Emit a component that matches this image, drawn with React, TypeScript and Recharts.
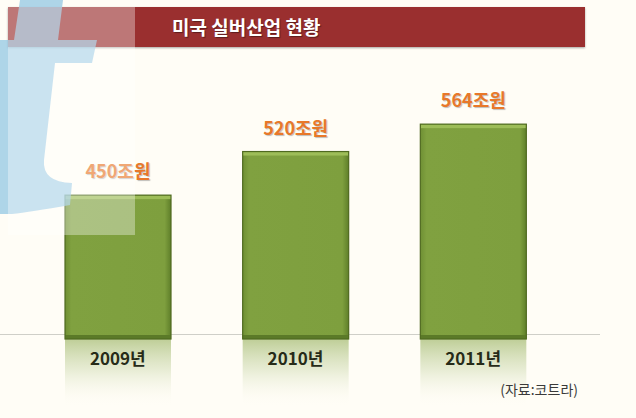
import { Bar, BarChart, LabelList, XAxis, YAxis } from 'recharts';

const years = ['2009년', '2010년', '2011년'];
const marketSize = [450, 520, 564];
const valueLabels = ['450조원', '520조원', '564조원'];

const chartData = years.map((year, i) => ({ year, value: marketSize[i], label: valueLabels[i] }));

const KR_FONT = '"Noto Sans CJK KR", "Noto Sans", sans-serif';

function BevelBar(props: any) {
  const { x, y, width, height } = props;
  return (
    <g>
      <rect x={x} y={y + height} width={width} height={68} fill="url(#reflect)" />
      <rect x={x} y={y} width={width} height={height} fill="url(#barBody)" />
      <rect x={x} y={y} width={width} height={4} fill="#9dbd58" />
      <rect x={x} y={y + height - 4} width={width} height={4} fill="#5b7a28" />
      <rect x={x} y={y} width={width} height={height} fill="none" stroke="#4f6a20" strokeWidth={1.2} />
    </g>
  );
}

function YearTick(props: any) {
  const { x, y, payload } = props;
  return (
    <text
      x={x}
      y={y + 18}
      textAnchor="middle"
      fontFamily={KR_FONT}
      fontWeight={700}
      fontSize={17}
      fill="#262b18"
    >
      {payload.value}
    </text>
  );
}

export default function App() {
  return (
    <div
      style={{
        position: 'fixed',
        left: 0,
        top: 0,
        width: 636,
        height: 418,
        background: '#fffdf6',
        overflow: 'hidden',
      }}
    >
      {/* title bar */}
      <div
        style={{
          position: 'absolute',
          left: 8,
          top: 7,
          width: 577,
          height: 40,
          background: '#9a2f2f',
          boxShadow: '0 1px 2px rgba(0,0,0,0.35)',
        }}
      >
        <div
          style={{
            position: 'absolute',
            left: 164,
            top: 0,
            lineHeight: '40px',
            color: '#fff',
            fontFamily: KR_FONT,
            fontWeight: 700,
            fontSize: 19,
            textShadow: '1px 1px 1px rgba(0,0,0,0.4)',
          }}
        >
          미국 실버산업 현황
        </div>
      </div>

      {/* baseline */}
      <div style={{ position: 'absolute', left: 0, top: 334, width: 600, height: 1, background: '#cfcfc8' }} />

      <div style={{ position: 'absolute', left: 0, top: 0 }}>
        <BarChart
          width={636}
          height={418}
          data={chartData}
          margin={{ top: 60, right: 36, bottom: 0, left: 0 }}
          barSize={106}
        >
          <defs>
            <linearGradient id="barBody" x1="0" y1="0" x2="1" y2="0">
              <stop offset="0%" stopColor="#6f9034" />
              <stop offset="6%" stopColor="#80a140" />
              <stop offset="94%" stopColor="#7e9f3e" />
              <stop offset="100%" stopColor="#5f7f2a" />
            </linearGradient>
            <linearGradient id="reflect" x1="0" y1="0" x2="0" y2="1">
              <stop offset="0%" stopColor="#9bb463" stopOpacity={0.65} />
              <stop offset="45%" stopColor="#c3d2a0" stopOpacity={0.4} />
              <stop offset="100%" stopColor="#fffdf6" stopOpacity={0} />
            </linearGradient>
          </defs>
          <XAxis
            dataKey="year"
            height={79}
            axisLine={false}
            tickLine={false}
            padding={{ left: 29, right: 38 }}
            tick={<YearTick />}
            interval={0}
          />
          <YAxis hide domain={[219, 667]} />
          <Bar dataKey="value" shape={<BevelBar />} isAnimationActive={false}>
            <LabelList
              dataKey="label"
              position="top"
              offset={17}
              fill="#e8782a"
              fontFamily={KR_FONT}
              fontWeight={700}
              fontSize={18}
              style={{ textShadow: '1px 1px 1px rgba(0,0,0,0.25)' }}
            />
          </Bar>
        </BarChart>
      </div>

      {/* source */}
      <div
        style={{
          position: 'absolute',
          right: 58,
          top: 379,
          fontFamily: KR_FONT,
          fontSize: 14,
          color: '#3a3a3a',
        }}
      >
        (자료:코트라)
      </div>

      {/* watermark */}
      <svg
        width={160}
        height={240}
        style={{ position: 'absolute', left: 0, top: 0, pointerEvents: 'none' }}
      >
        <path
          d="M20 0 L63 0 L58 40 L97 40 L92 63 L55 63 L44 160 Q42 182 72 183 L70 205 Q30 212 12 214 L0 214 L0 63 L0 40 L14 40 Z"
          fill="#8cc3e2"
          opacity={0.7}
        />
        <rect x={8} y={7} width={127} height={228} fill="#ffffff" opacity={0.35} />
      </svg>
    </div>
  );
}
